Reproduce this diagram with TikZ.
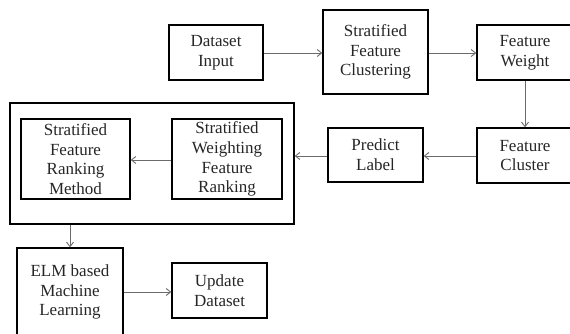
\documentclass[tikz,border=0pt]{standalone}
\usepackage{fontspec}
\setmainfont{Liberation Serif}
\usetikzlibrary{arrows.meta}
\begin{document}
\begin{tikzpicture}[x=1pt,y=-1pt,
  box/.style={draw=black,line width=1.3pt,align=center,inner sep=0pt,
    font=\fontsize{17}{19.8}\selectfont,text=black!85},
  link/.style={draw=black!58,line width=1pt,
    -{Straight Barb[length=4.5pt,width=7pt,line width=0.9pt]}}]
\useasboundingbox (0,0) rectangle (570,333);
\clip (0,0) rectangle (570,333);
% top row
\node[box,minimum width=94pt,minimum height=55pt] (din) at (216,52.5) {Dataset\\Input};
\node[box,minimum width=105pt,minimum height=84pt] (sfc) at (375.5,52) {Stratified\\Feature\\Clustering};
\node[box,minimum width=96pt,minimum height=55pt] (fw) at (525,52.5) {Feature\\Weight};
% middle row
\node[box,minimum width=96pt,minimum height=55pt] (fc) at (525,155.5) {Feature\\Cluster};
\node[box,minimum width=95pt,minimum height=54pt] (pl) at (375.5,155) {Predict\\Label};
\node[box,minimum width=284pt,minimum height=121pt] (outer) at (152,163.5) {};
\node[box,minimum width=109pt,minimum height=80pt] (sfrm) at (75.5,159) {Stratified\\Feature\\Ranking\\Method};
\node[box,minimum width=110pt,minimum height=80pt] (swfr) at (227,159) {Stratified\\Weighting\\Feature\\Ranking};
% bottom row
\node[box,minimum width=106pt,minimum height=88pt] (elm) at (70,292) {ELM based\\Machine\\Learning};
\node[box,minimum width=95pt,minimum height=55pt] (upd) at (219.5,290.5) {Update\\Dataset};
% connectors
\draw[link] (din.east |- 0,53) -- (sfc.west |- 0,53);
\draw[link] (sfc.east |- 0,53) -- (fw.west |- 0,53);
\draw[link] (fw) -- (fc);
\draw[link] (fc.west |- 0,156) -- (pl.east |- 0,156);
\draw[link] (pl.west |- 0,156) -- (outer.east |- 0,156);
\draw[link] (swfr.west |- 0,160) -- (sfrm.east |- 0,160);
\draw[link] (outer.south -| elm.north) -- (elm.north);
\draw[link] (elm.east |- 0,292) -- (upd.west |- 0,292);
\end{tikzpicture}
\end{document}
